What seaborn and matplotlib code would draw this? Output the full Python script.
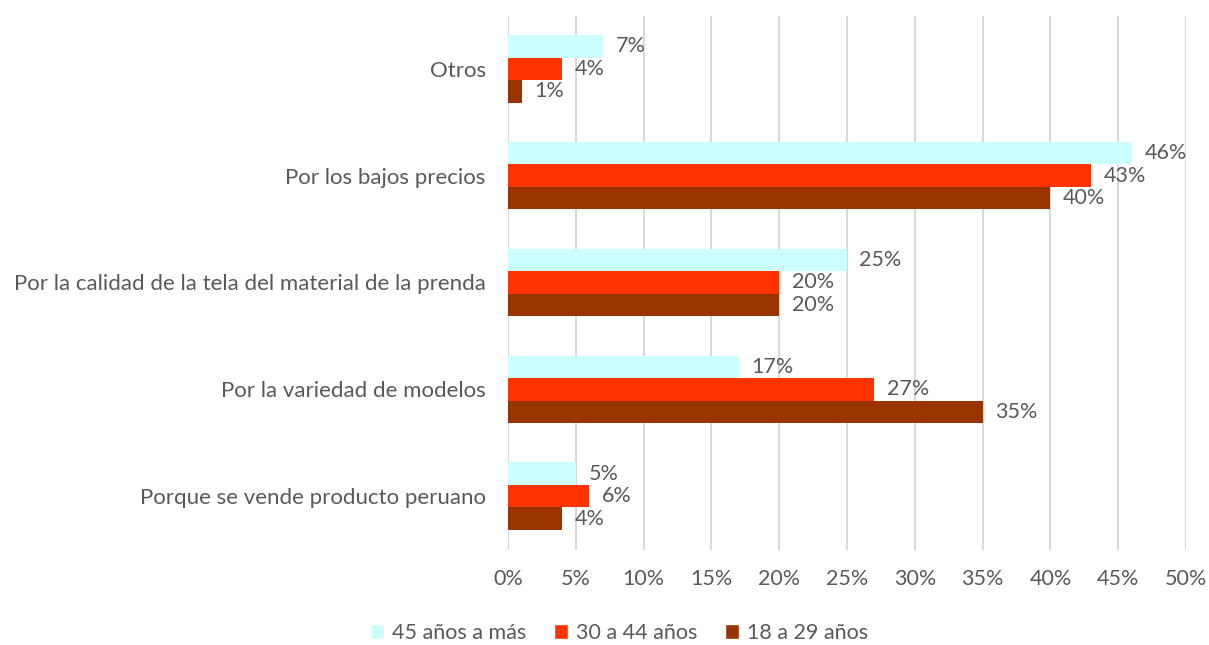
import matplotlib
matplotlib.use("Agg")
import matplotlib.pyplot as plt
import seaborn as sns
import pandas as pd
from matplotlib.ticker import FuncFormatter, MultipleLocator
from matplotlib.patches import Patch

categories = ["Otros", "Por los bajos precios",
              "Por la calidad de la tela del material de la prenda",
              "Por la variedad de modelos", "Porque se vende producto peruano"]
series_names = ["45 años a más", "30 a 44 años", "18 a 29 años"]
v45 = [7, 46, 25, 17, 5]
v30 = [4, 43, 20, 27, 6]
v18 = [1, 40, 20, 35, 4]
colors = ["#CCFFFF", "#FF3300", "#993300"]

rows = []
for name, vals in zip(series_names, [v45, v30, v18]):
    for c, v in zip(categories, vals):
        rows.append({"cat": c, "serie": name, "val": v})
df = pd.DataFrame(rows)

sns.set_style("white")
plt.rcParams['font.family'] = ['Lato', 'DejaVu Sans']
text_color = "#595959"

fig = plt.figure(figsize=(12.09, 6.45), dpi=100)
ax = fig.add_axes([508/1209, 1-549.5/645, (1186-508)/1209, (549.5-15.5)/645])

sns.barplot(data=df, y="cat", x="val", hue="serie", order=categories,
            hue_order=series_names, palette=colors, orient="h", width=0.63,
            ax=ax, legend=False, saturation=1, linewidth=0)

for cont in ax.containers:
    ax.bar_label(cont, labels=[f"{int(round(v))}%" for v in cont.datavalues],
                 padding=9, fontsize=15.5, color=text_color)

ax.set_xlim(0, 50)
ax.xaxis.set_major_locator(MultipleLocator(5))
ax.xaxis.set_major_formatter(FuncFormatter(lambda x, p: f"{int(x)}%"))
ax.grid(axis="x", color="#D9D9D9", linewidth=1.5)
ax.set_axisbelow(True)
for s in ax.spines.values():
    s.set_visible(False)
ax.set_xlabel("")
ax.set_ylabel("")
ax.tick_params(axis="both", length=0, labelcolor=text_color)
ax.tick_params(axis="x", pad=14, labelsize=15.5)
ax.tick_params(axis="y", pad=16, labelsize=16)

handles = [Patch(facecolor=c, label=n) for c, n in zip(colors, series_names)]
fig.legend(handles=handles, loc="center", bbox_to_anchor=(619/1209, 1-633/645),
           ncol=3, frameon=False, fontsize=15.5, labelcolor=text_color,
           handlelength=0.65, handleheight=0.65, handletextpad=0.35, columnspacing=1.3)

fig.savefig("out.png", dpi=100)
